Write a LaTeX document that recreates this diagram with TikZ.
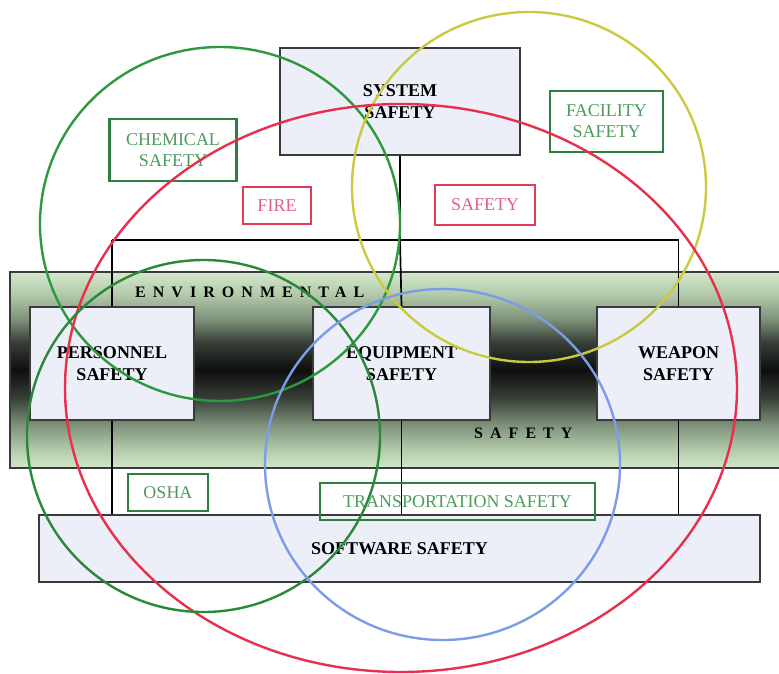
\documentclass[tikz,border=0pt]{standalone}
\usepackage{fontspec}
\setmainfont{Liberation Serif}
\newfontfamily\spacedserif[LetterSpace=44]{Liberation Serif}

% colours
\definecolor{boxfill}{HTML}{ECEEF8}
\definecolor{boxline}{HTML}{3A3A3A}
\definecolor{lblgreen}{HTML}{2F8040}
\definecolor{txtgreen}{HTML}{4E9A5C}
\definecolor{lblred}{HTML}{E03A5A}
\definecolor{txtred}{HTML}{E06080}
\definecolor{ringred}{HTML}{E8304C}
\definecolor{ringgreen}{HTML}{2C9A3C}
\definecolor{ringgreendk}{HTML}{2A8838}
\definecolor{ringyellow}{HTML}{CACA40}
\definecolor{ringblue}{HTML}{7C9CE8}
\definecolor{bandA}{HTML}{D4E8CC}
\definecolor{bandB}{HTML}{B0C8A8}
\definecolor{bandC}{HTML}{7E927A}
\definecolor{bandD}{HTML}{363E36}
\definecolor{bandE}{HTML}{0E0E0E}

% vertical light-dark-light band
\pgfdeclareverticalshading{envband}{100bp}{%
  color(0bp)=(bandA); color(25bp)=(bandA); color(30bp)=(bandB);
  color(36bp)=(bandC); color(43bp)=(bandD); color(50bp)=(bandE);
  color(57bp)=(bandD); color(63bp)=(bandC); color(69bp)=(bandB);
  color(75bp)=(bandA); color(100bp)=(bandA)}

\tikzset{
  mainbox/.style={draw=boxline, line width=2.4pt, fill=boxfill, inner sep=0pt,
    align=center, font=\fontsize{18}{22}\selectfont\bfseries},
  greenlbl/.style={draw=lblgreen, line width=2.2pt, inner sep=0pt, align=center,
    text=txtgreen, font=\fontsize{18}{21}\selectfont},
  redlbl/.style={draw=lblred, line width=2.2pt, inner sep=0pt, align=center,
    text=txtred, font=\fontsize{18}{21}\selectfont},
  wire/.style={draw=black, line width=1.7pt},
  spacedlbl/.style={inner sep=0pt, font=\fontsize{16}{18}\spacedserif\bfseries},
  ring/.style={line width=2.4pt}
}

\begin{document}
\begin{tikzpicture}[x=1pt, y=-1pt]
\useasboundingbox (0,0) rectangle (779,674);

% environmental band
\node[shading=envband, draw=boxline, line width=2pt, inner sep=0pt,
      minimum width=780pt, minimum height=196pt] (env) at (400,370) {};
\node[spacedlbl, anchor=base west] (envtop) at (135,297) {ENVIRONMENTAL};
\node[spacedlbl, anchor=base west] (envbot) at (474,438) {SAFETY};

% boxes
\node[mainbox, minimum width=240pt, minimum height=107pt] (sys) at (400,101.5) {SYSTEM\\SAFETY};
\node[mainbox, minimum width=164pt, minimum height=113pt] (pers) at (112,363.5) {PERSONNEL\\SAFETY};
\node[mainbox, minimum width=177pt, minimum height=113pt] (equip) at (401.5,363.5) {EQUIPMENT\\SAFETY};
\node[mainbox, minimum width=163pt, minimum height=113pt] (weap) at (678.5,363.5) {WEAPON\\SAFETY};
\node[mainbox, minimum width=721pt, minimum height=67pt] (soft) at (399.5,548.5) {SOFTWARE SAFETY};

% bus coordinates
\coordinate (busm) at (sys.south |- 0,240);
\coordinate (busl) at (pers.north |- busm);
\coordinate (busr) at (weap.north |- busm);

% connectors
\draw[wire] (sys.south) -- (busm);
\draw[wire] (busl) -- (busr);
\draw[wire] (busl) -- (pers.north);
\draw[wire] (busm) -- (equip.north);
\draw[wire] (busr) -- (weap.north);
\draw[wire] (pers.south) -- (pers.south |- soft.north);
\draw[wire] (equip.south) -- (equip.south |- soft.north);
\draw[wire] (weap.south) -- (weap.south |- soft.north);

% labels
\node[greenlbl, minimum width=127pt, minimum height=62pt] (chem) at (173,150) {CHEMICAL\\SAFETY};
\node[greenlbl, minimum width=113pt, minimum height=61pt] (fac) at (606.5,121.5) {FACILITY\\SAFETY};
\node[redlbl, minimum width=68pt, minimum height=37pt] (fire) at (277,205.5) {FIRE};
\node[redlbl, minimum width=100pt, minimum height=40pt] (safe) at (485,205) {SAFETY};
\node[greenlbl, minimum width=80pt, minimum height=37pt] (osha) at (168,492.5) {OSHA};
\node[greenlbl, minimum width=275pt, minimum height=37pt] (trans) at (457.5,501.5) {TRANSPORTATION SAFETY};

% overlapping rings
\draw[ring, ringgreen] (220,224) ellipse [x radius=180pt, y radius=177pt];
\draw[ring, ringyellow] (529,187) ellipse [x radius=177pt, y radius=175pt];
\draw[ring, ringred] (401,388) ellipse [x radius=336pt, y radius=284pt];
\draw[ring, ringgreendk] (203.5,436) ellipse [x radius=176.5pt, y radius=176pt];
\draw[ring, ringblue] (442.5,464.5) ellipse [x radius=177.5pt, y radius=175.5pt];
\end{tikzpicture}
\end{document}
